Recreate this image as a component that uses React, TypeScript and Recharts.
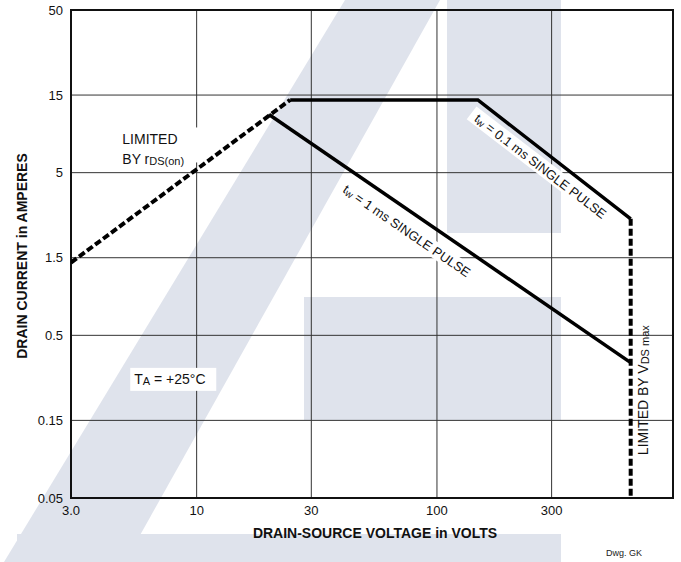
import React from "react";
import {ComposedChart, Line, XAxis, YAxis, CartesianGrid, ReferenceArea, ReferenceDot} from "recharts";

// axis ticks
const voltTicks = [3, 10, 30, 100, 300];
const ampTicks = [0.05, 0.15, 0.5, 1.5, 5, 15, 50];

// limited by rDS(on) (dashed)
const rdsVolts = [3, 24.5];
const rdsAmps = [1.4, 14];

// tw = 0.1 ms single pulse
const pulse01Volts = [24.5, 148, 640];
const pulse01Amps = [14, 14, 2.6];

// limited by VDS max (dashed)
const vdsVolts = [640, 640];
const vdsAmps = [2.6, 0.05];

// tw = 1 ms single pulse
const pulse1Volts = [20, 640];
const pulse1Amps = [11.4, 0.34];

const zip = (v: number[], a: number[]) => v.map((x, i) => ({v: x, a: a[i]}));

const FONT = '"Liberation Sans", Arial, sans-serif';
const WATERMARK = '#dfe3ec';

// faint logo behind the drawing
function Watermark() {
    return (
        <svg width={681} height={562} style={{position: 'absolute', left: 0, top: 0}}>
            <polygon points="345,0 440,0 125,562 4,562" fill={WATERMARK}/>
            <rect x={447} y={0} width={114} height={233} fill={WATERMARK}/>
            <rect x={304} y={297} width={257} height={123} fill={WATERMARK}/>
            <rect x={17} y={534} width={544} height={28} fill={WATERMARK}/>
        </svg>
    );
}

function Note(props: any) {
    const {cx, cy, angle = 0, dx = 0, dy = 0, box, children, anchor = "middle", size = 13} = props;
    return (
        <g transform={`translate(${cx + dx},${cy + dy}) rotate(${angle})`}>
            {box && <rect x={box[0]} y={box[1]} width={box[2]} height={box[3]} fill="#fff"/>}
            <text textAnchor={anchor} dominantBaseline="central" fontFamily={FONT} fontSize={size} fill="#111">
                {children}
            </text>
        </g>
    );
}

function XTitle(props: any) {
    const {viewBox} = props;
    const cx = viewBox.x + viewBox.width / 2;
    return (
        <g fontFamily={FONT}>
            <text x={cx + 3} y={538} textAnchor="middle" fontSize={14} fontWeight="bold" fill="#111">
                DRAIN-SOURCE VOLTAGE in VOLTS
            </text>
            <text x={624} y={556} textAnchor="middle" fontSize={9} fill="#222">Dwg. GK</text>
        </g>
    );
}

function YTitle(props: any) {
    const {viewBox} = props;
    const cy = viewBox.y + viewBox.height / 2 + 2;
    return (
        <text x={22} y={cy} transform={`rotate(-90, 22, ${cy})`} textAnchor="middle" dominantBaseline="central"
              fontFamily={FONT} fontSize={14} fontWeight="bold" fill="#111">
            DRAIN CURRENT in AMPERES
        </text>
    );
}

export default function App() {
    const tick = {fontSize: 13, fill: '#111', fontFamily: FONT};
    return (
        <div style={{position: 'absolute', left: 0, top: 0, width: 681, height: 562, background: '#fff'}}>
            <Watermark/>
            <div style={{position: 'absolute', left: 0, top: 0}}>
                <ComposedChart width={681} height={562} margin={{top: 10, right: 8, bottom: 0, left: 0}}>
                    <CartesianGrid stroke="#333" strokeWidth={1}/>
                    <XAxis dataKey="v" type="number" scale="log" domain={[3, 960]} ticks={voltTicks}
                           allowDataOverflow height={64} tickSize={0} tickMargin={8} axisLine={false}
                           tick={tick} tickFormatter={(t: number) => t === 3 ? '3.0' : String(t)}
                           label={{content: <XTitle/>}}/>
                    <YAxis dataKey="a" type="number" scale="log" domain={[0.05, 50]} ticks={ampTicks}
                           allowDataOverflow width={71} tickSize={0} tickMargin={8} axisLine={false}
                           tick={tick} label={{content: <YTitle/>}}/>

                    <ReferenceDot x={5} y={8} r={0} shape={(p: any) => (
                        <g>
                            <rect x={p.cx - 8} y={p.cy - 12} width={84} height={35} fill="#fff"/>
                            <text x={p.cx - 2} y={p.cy} dominantBaseline="central" fontFamily={FONT} fontSize={14} fill="#111">
                                LIMITED
                            </text>
                            <text x={p.cx - 2} y={p.cy + 20} dominantBaseline="central" fontFamily={FONT} fontSize={14} fill="#111">
                                BY r<tspan fontSize={11} dy={2}>DS(on)</tspan>
                            </text>
                        </g>
                    )}/>
                    <ReferenceDot x={5.5} y={0.27} r={0} shape={(p: any) => (
                        <Note cx={p.cx} cy={p.cy} anchor="start" size={14} box={[-4, -11, 86, 23]}>
                            T<tspan fontSize={11} dy={2}>A</tspan><tspan dy={-2}> = +25°C</tspan>
                        </Note>
                    )}/>
                    <ReferenceDot x={75} y={2.2} r={0} shape={(p: any) => (
                        <Note cx={p.cx} cy={p.cy} angle={34.5} box={[-80, -8, 160, 16]}>
                            t<tspan fontSize={10} dy={2}>w</tspan><tspan dy={-2}> = 1 ms SINGLE PULSE</tspan>
                        </Note>
                    )}/>
                    <ReferenceDot x={270} y={5.5} r={0} shape={(p: any) => (
                        <Note cx={p.cx} cy={p.cy} angle={37.5} box={[-87, -8, 174, 16]}>
                            t<tspan fontSize={10} dy={2}>w</tspan><tspan dy={-2}> = 0.1 ms SINGLE PULSE</tspan>
                        </Note>
                    )}/>
                    <ReferenceDot x={720} y={0.23} r={0} shape={(p: any) => (
                        <Note cx={p.cx} cy={p.cy} angle={-90} size={14}>
                            LIMITED BY V<tspan fontSize={11} dy={2}>DS max</tspan>
                        </Note>
                    )}/>

                    <ReferenceArea x1={3} x2={960} y1={0.05} y2={50} fill="none" stroke="#111" strokeWidth={2}
                                   ifOverflow="extendDomain"/>

                    <Line data={zip(rdsVolts, rdsAmps)} dataKey="a" stroke="#000" strokeWidth={4}
                          strokeDasharray="7 3" dot={false} isAnimationActive={false}/>
                    <Line data={zip(pulse01Volts, pulse01Amps)} dataKey="a" stroke="#000" strokeWidth={3.5}
                          dot={false} isAnimationActive={false}/>
                    <Line data={zip(vdsVolts, vdsAmps)} dataKey="a" stroke="#000" strokeWidth={4}
                          strokeDasharray="7 3" dot={false} isAnimationActive={false}/>
                    <Line data={zip(pulse1Volts, pulse1Amps)} dataKey="a" stroke="#000" strokeWidth={3.5}
                          dot={false} isAnimationActive={false}/>
                </ComposedChart>
            </div>
        </div>
    );
}
